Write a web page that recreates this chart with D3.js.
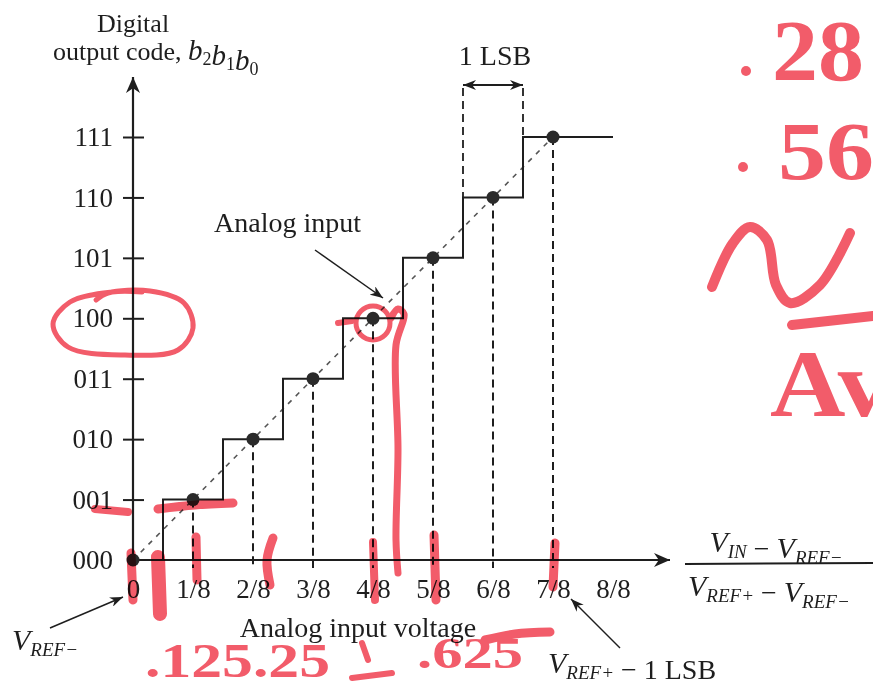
<!DOCTYPE html>
<html>
<meta charset="utf-8">
<script src="https://d3js.org/d3.v7.min.js"></script>
<style>
  body { margin: 0; background: #fff; }
  text { font-family: "Liberation Serif", "Times New Roman", serif; fill: #1e1e1e; }
</style>
<body>
<div id="adc"></div>
<script>
// output codes (y axis) and their numeric levels
var codes = ["000", "001", "010", "011", "100", "101", "110", "111"];
var codeLevels = [0, 1, 2, 3, 4, 5, 6, 7];
// normalised analog input where each code is exact
var sampleInputs = [0, 0.125, 0.25, 0.375, 0.5, 0.625, 0.75, 0.875];
// inputs where the code steps up (half LSB offset)
var transitions = [0.0625, 0.1875, 0.3125, 0.4375, 0.5625, 0.6875, 0.8125];
// x axis ticks
var xTickValues = [0, 0.125, 0.25, 0.375, 0.5, 0.625, 0.75, 0.875, 1];
var xTickLabels = ["0", "1/8", "2/8", "3/8", "4/8", "5/8", "6/8", "7/8", "8/8"];

var width = 873, height = 687;
var ink = "#1e1e1e";

var svg = d3.select("#adc").append("svg")
    .attr("width", width)
    .attr("height", height);

var x = d3.scaleLinear().domain([0, 1]).range([133, 613]);
var y = d3.scaleLinear().domain([0, 7]).range([560, 137]);

// arrow heads
var defs = svg.append("defs");
function marker(id, len, half) {
  defs.append("marker")
      .attr("id", id)
      .attr("viewBox", "0 " + (-half) + " " + len + " " + (2 * half))
      .attr("refX", len).attr("refY", 0)
      .attr("markerUnits", "userSpaceOnUse")
      .attr("markerWidth", len).attr("markerHeight", 2 * half)
      .attr("orient", "auto-start-reverse")
    .append("path")
      .attr("d", "M0," + (-half) + "L" + len + ",0L0," + half + "L" + (len * 0.3) + ",0Z")
      .attr("fill", ink);
}
marker("axisArrow", 16, 7);
marker("thinArrow", 13, 5);

// y axis
var yAxis = svg.append("g")
    .attr("transform", "translate(" + x(0) + ",0)")
    .call(d3.axisLeft(y)
      .tickValues(codeLevels.slice(1))
      .tickFormat(function(d) { return codes[d]; })
      .tickSize(10).tickPadding(10));
yAxis.select(".domain").remove();
yAxis.selectAll(".tick line").attr("x1", 11).attr("stroke", ink).attr("stroke-width", 2);
yAxis.selectAll("text")
    .attr("font-family", "Liberation Serif").attr("font-size", 27).attr("fill", ink);
// 000 label sits at the origin
svg.append("text")
    .attr("x", x(0) - 20).attr("y", y(0)).attr("dy", "0.32em")
    .attr("text-anchor", "end").attr("font-size", 27)
    .text(codes[0]);

svg.append("line")
    .attr("x1", x(0)).attr("y1", y(0))
    .attr("x2", x(0)).attr("y2", 77)
    .attr("stroke", ink).attr("stroke-width", 2.2)
    .attr("marker-end", "url(#axisArrow)");

// x axis
var xAxis = svg.append("g")
    .attr("transform", "translate(0," + y(0) + ")")
    .call(d3.axisBottom(x)
      .tickValues(xTickValues)
      .tickFormat(function(d, i) { return xTickLabels[i]; })
      .tickSize(0).tickPadding(19));
xAxis.select(".domain").remove();
xAxis.selectAll("text")
    .attr("font-family", "Liberation Serif").attr("font-size", 27).attr("fill", ink);

svg.append("line")
    .attr("x1", x(0)).attr("y1", y(0))
    .attr("x2", 670).attr("y2", y(0))
    .attr("stroke", ink).attr("stroke-width", 2.2)
    .attr("marker-end", "url(#axisArrow)");

// dashed guides from each sample down to the axis
svg.selectAll(".guide")
    .data(sampleInputs.slice(1))
    .enter().append("line")
    .attr("x1", function(d) { return x(d); })
    .attr("x2", function(d) { return x(d); })
    .attr("y1", function(d, i) { return y(codeLevels[i + 1]); })
    .attr("y2", y(0) + 8)
    .attr("stroke", ink).attr("stroke-width", 2)
    .attr("stroke-dasharray", "8,5");

// ideal analog input line
svg.append("line")
    .attr("x1", x(0)).attr("y1", y(0))
    .attr("x2", x(sampleInputs[7])).attr("y2", y(codeLevels[7]))
    .attr("stroke", "#555").attr("stroke-width", 1.6)
    .attr("stroke-dasharray", "5,6");

// staircase transfer function
var stairPts = [[0, 0]];
transitions.forEach(function(t, i) { stairPts.push([t, codeLevels[i + 1]]); });
stairPts.push([1, codeLevels[7]]);
svg.append("path")
    .datum(stairPts)
    .attr("d", d3.line()
      .x(function(d) { return x(d[0]); })
      .y(function(d) { return y(d[1]); })
      .curve(d3.curveStepAfter))
    .attr("fill", "none").attr("stroke", ink).attr("stroke-width", 2);

// 1 LSB marker
var lsbTop = 88;
[5, 6].forEach(function(k) {
  svg.append("line")
      .attr("x1", x(transitions[k])).attr("x2", x(transitions[k]))
      .attr("y1", lsbTop).attr("y2", y(codeLevels[k + 1]))
      .attr("stroke", ink).attr("stroke-width", 1.8)
      .attr("stroke-dasharray", "8,5");
});
svg.append("line")
    .attr("x1", x(transitions[5])).attr("x2", x(transitions[6]))
    .attr("y1", lsbTop - 3).attr("y2", lsbTop - 3)
    .attr("stroke", ink).attr("stroke-width", 2)
    .attr("marker-start", "url(#thinArrow)")
    .attr("marker-end", "url(#thinArrow)");
svg.append("text")
    .attr("x", (x(transitions[5]) + x(transitions[6])) / 2 + 2).attr("y", 65)
    .attr("text-anchor", "middle").attr("font-size", 28)
    .text("1 LSB");

// sample dots
svg.selectAll(".dot")
    .data(sampleInputs)
    .enter().append("circle")
    .attr("cx", function(d) { return x(d); })
    .attr("cy", function(d, i) { return y(codeLevels[i]); })
    .attr("r", 6.5)
    .attr("fill", "#2a2a2a");

// y axis title
svg.append("text").attr("x", 133).attr("y", 32)
    .attr("text-anchor", "middle").attr("font-size", 26).text("Digital");
var yt = svg.append("text").attr("x", 53).attr("y", 60).attr("font-size", 26);
yt.append("tspan").text("output code, ");
[["b", "2"], ["b", "1"], ["b", "0"]].forEach(function(p) {
  yt.append("tspan").attr("font-style", "italic").attr("font-size", 29).text(p[0]);
  yt.append("tspan").attr("font-size", 18).attr("dy", 5).text(p[1]);
  yt.append("tspan").attr("dy", -5).text("");
});

// x axis title
svg.append("text").attr("x", 358).attr("y", 637)
    .attr("text-anchor", "middle").attr("font-size", 28)
    .text("Analog input voltage");

// normalised input fraction
function vsub(sel, sub) {
  sel.append("tspan").attr("font-style", "italic").attr("font-size", 30).text("V");
  sel.append("tspan").attr("font-style", "italic").attr("font-size", 19).attr("dy", 6).text(sub);
  sel.append("tspan").attr("dy", -6).text("");
}
var num = svg.append("text").attr("x", 776).attr("y", 552).attr("text-anchor", "middle").attr("font-size", 28);
vsub(num, "IN");
num.append("tspan").text(" \u2212 ");
vsub(num, "REF\u2212");
svg.append("line").attr("x1", 685).attr("x2", 873).attr("y1", 564).attr("y2", 563)
    .attr("stroke", ink).attr("stroke-width", 2);
var den = svg.append("text").attr("x", 688).attr("y", 596).attr("font-size", 28);
vsub(den, "REF+");
den.append("tspan").text(" \u2212 ");
vsub(den, "REF\u2212");

// callouts
svg.append("text").attr("x", 214).attr("y", 232).attr("font-size", 28).text("Analog input");
svg.append("line").attr("x1", 315).attr("y1", 250).attr("x2", 383).attr("y2", 298)
    .attr("stroke", ink).attr("stroke-width", 1.5).attr("marker-end", "url(#thinArrow)");

var vm = svg.append("text").attr("x", 12).attr("y", 650).attr("font-size", 28);
vsub(vm, "REF\u2212");
svg.append("line").attr("x1", 50).attr("y1", 628).attr("x2", 123).attr("y2", 597)
    .attr("stroke", ink).attr("stroke-width", 1.5).attr("marker-end", "url(#thinArrow)");

var vp = svg.append("text").attr("x", 548).attr("y", 673).attr("font-size", 28);
vsub(vp, "REF+");
vp.append("tspan").text(" \u2212 1 LSB");
svg.append("line").attr("x1", 620).attr("y1", 648).attr("x2", 571).attr("y2", 599)
    .attr("stroke", ink).attr("stroke-width", 1.5).attr("marker-end", "url(#thinArrow)");

// red pen notes scribbled over the scan
var pen = "#f25c6a";
var notes = svg.append("g").style("mix-blend-mode", "multiply");
var strokes = [
  { w: 5, pts: [[96, 300], [108, 293], [150, 291], [184, 303], [193, 328], [178, 350], [125, 355], [68, 347], [53, 324], [70, 302], [112, 292], [142, 292]] },
  { w: 8, pts: [[95, 509], [128, 512]] },
  { w: 9, pts: [[158, 509], [195, 505], [233, 503]] },
  { w: 9, pts: [[131, 553], [133, 600]] },
  { w: 14, pts: [[158, 557], [160, 614]] },
  { w: 9, pts: [[196, 537], [197, 580]] },
  { w: 9, pts: [[273, 538], [267, 560], [270, 585]] },
  { w: 8, pts: [[373, 542], [375, 600]] },
  { w: 7, pts: [[391, 318], [398, 309], [404, 314], [396, 345], [398, 450], [396, 540], [398, 573]] },
  { w: 6, pts: [[338, 323], [352, 321]] },
  { w: 9, pts: [[434, 535], [436, 600]] },
  { w: 9, pts: [[555, 543], [553, 587]] },
  { w: 10, pts: [[712, 287], [733, 243], [750, 227], [767, 240], [776, 285], [790, 303], [820, 285], [850, 233]] },
  { w: 10, pts: [[792, 325], [873, 316]] },
  { w: 9, pts: [[485, 640], [515, 634], [550, 632]] },
  { w: 6, pts: [[362, 643], [368, 660]] },
  { w: 6, pts: [[352, 678], [392, 673]] }
];
var penLine = d3.line().curve(d3.curveCatmullRom);
notes.selectAll(".pen")
    .data(strokes)
    .enter().append("path")
    .attr("d", function(d) { return penLine(d.pts); })
    .attr("fill", "none").attr("stroke", pen)
    .attr("stroke-width", function(d) { return d.w; })
    .attr("stroke-linecap", "round").attr("stroke-linejoin", "round");
notes.append("circle").attr("cx", 373).attr("cy", 323).attr("r", 17)
    .attr("fill", "none").attr("stroke", pen).attr("stroke-width", 5);

var penText = [
  { t: ".125.25", x: 145, y: 677, s: 48, len: 185 },
  { t: ".625", x: 417, y: 668, s: 44, len: 106 },
  { t: "28", x: 772, y: 80, s: 86, len: 92 },
  { t: "56", x: 778, y: 179, s: 82, len: 96 },
  { t: "Av", x: 770, y: 416, s: 96, len: 120 }
];
notes.selectAll(".pentext")
    .data(penText)
    .enter().append("text")
    .attr("x", function(d) { return d.x; })
    .attr("y", function(d) { return d.y; })
    .attr("font-family", "DejaVu Sans").attr("font-weight", "bold")
    .attr("font-size", function(d) { return d.s; })
    .attr("textLength", function(d) { return d.len; })
    .attr("lengthAdjust", "spacingAndGlyphs")
    .style("fill", pen)
    .text(function(d) { return d.t; });
notes.append("circle").attr("cx", 746).attr("cy", 71).attr("r", 5).attr("fill", pen);
notes.append("circle").attr("cx", 743).attr("cy", 167).attr("r", 5).attr("fill", pen);
</script>
</body>
</html>
